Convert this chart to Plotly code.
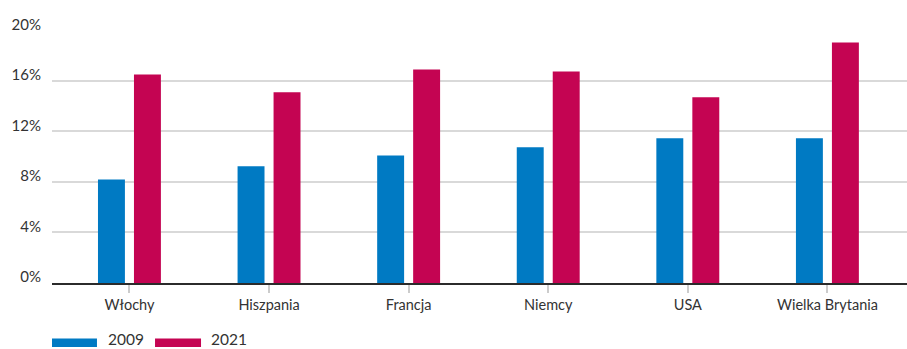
import plotly.graph_objects as go

categories = ["Włochy", "Hiszpania", "Francja", "Niemcy", "USA", "Wielka Brytania"]
values_2009 = [8.2, 9.25, 10.1, 10.75, 11.45, 11.45]
values_2021 = [16.5, 15.1, 16.9, 16.75, 14.7, 19.05]
series_names = ["2009", "2021"]
y_ticks = [0, 4, 8, 12, 16, 20]
y_tick_labels = ["0%", "4%", "8%", "12%", "16%", "20%"]

BLUE = "#007AC3"
MAGENTA = "#C40452"
FONT = "Lato"
TXT = "#333333"

x_idx = list(range(len(categories)))
W = 0.193

fig = go.Figure()
fig.add_trace(go.Bar(x=x_idx, y=values_2009, name=series_names[0], marker=dict(color=BLUE, line=dict(width=0)),
                     width=W, offset=-0.2256, showlegend=False))
fig.add_trace(go.Bar(x=x_idx, y=values_2021, name=series_names[1], marker=dict(color=MAGENTA, line=dict(width=0)),
                     width=W, offset=0.0322, showlegend=False))

# legend drawn manually (long flat swatches)
legend_items = [(0.0, 0.0526, 0.0643, BLUE, series_names[0]),
                (0.1205, 0.1743, 0.1848, MAGENTA, series_names[1])]
for x0, x1, xt, col, name in legend_items:
    fig.add_shape(type="rect", xref="paper", yref="paper", x0=x0, x1=x1, y0=-0.253, y1=-0.219,
                  fillcolor=col, line=dict(width=0))
    fig.add_annotation(xref="paper", yref="paper", x=xt, y=-0.2605, text=name, showarrow=False,
                       xanchor="left", yanchor="bottom", borderpad=0,
                       font=dict(family=FONT, size=15.5, color=TXT))

fig.update_layout(
    width=907, height=349,
    margin=dict(l=52, r=0, t=30, b=66),
    paper_bgcolor="white", plot_bgcolor="white",
    font=dict(family=FONT, color=TXT),
    xaxis=dict(
        tickmode="array", tickvals=x_idx, ticktext=categories,
        range=[-0.555, 5.57],
        showline=True, linecolor="#2b2b2b", linewidth=2,
        ticks="outside", ticklen=8, tickcolor="#cccccc", tickwidth=1.5,
        tickfont=dict(family=FONT, size=14.5, color=TXT),
        showgrid=False, zeroline=False,
    ),
    yaxis=dict(
        range=[0, 20.03],
        tickmode="array", tickvals=y_ticks, ticktext=y_tick_labels,
        showgrid=True, gridcolor="#d9d9d9", gridwidth=1.5,
        zeroline=False, showline=False,
        tickfont=dict(family=FONT, size=15, color=TXT),
        ticklabelshift=-6, ticklabelstandoff=10,
    ),
)

fig.write_html("out.html")
